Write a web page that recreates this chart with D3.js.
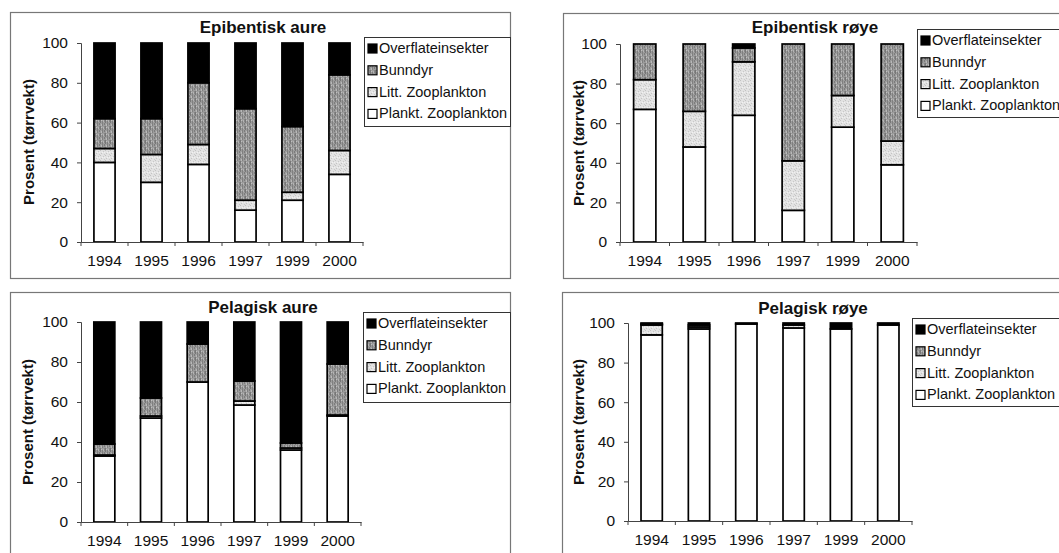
<!DOCTYPE html>
<html><head><meta charset="utf-8">
<script src="https://cdn.jsdelivr.net/npm/d3@7"></script>
<style>
html,body{margin:0;padding:0;background:#fff;overflow:hidden;}
svg{display:block;font-family:"Liberation Sans",Arial,sans-serif;}
</style></head>
<body>
<svg id="c" width="1059" height="553"></svg>
<script>
const years = ["1994","1995","1996","1997","1999","2000"];
const seriesNames = ["Plankt. Zooplankton","Litt. Zooplankton","Bunndyr","Overflateinsekter"];
const legendOrder = ["Overflateinsekter","Bunndyr","Litt. Zooplankton","Plankt. Zooplankton"];
const yTicks = [0,20,40,60,80,100];
const titles = ["Epibentisk aure","Epibentisk røye","Pelagisk aure","Pelagisk røye"];
const yLabel = "Prosent (tørrvekt)";

// Epibentisk aure
const epiAurePlankt = [40,30,39,16,21,34];
const epiAureLitt   = [7,14,10,5,4,12];
const epiAureBunn   = [15,18,31,46,33,38];
const epiAureOver   = [38,38,20,33,42,16];
// Epibentisk røye
const epiRoyePlankt = [67,48,64,16,58,39];
const epiRoyeLitt   = [15,18,27,25,16,12];
const epiRoyeBunn   = [18,34,7,59,26,49];
const epiRoyeOver   = [0,0,2,0,0,0];
// Pelagisk aure
const pelAurePlankt = [33,52,70,58.5,36,53];
const pelAureLitt   = [0.5,1,0,2,1,0.5];
const pelAureBunn   = [5.5,9,19,10,2.5,25.5];
const pelAureOver   = [61,38,11,29.5,60.5,21];
// Pelagisk røye
const pelRoyePlankt = [94,97,99.5,97.5,97,99];
const pelRoyeLitt   = [5,1,0,1.5,0,0];
const pelRoyeBunn   = [0.5,1,0,0,0,0];
const pelRoyeOver   = [0.5,1,0.5,1,3,1];

const panelSeries = [
  [epiAurePlankt,epiAureLitt,epiAureBunn,epiAureOver],
  [epiRoyePlankt,epiRoyeLitt,epiRoyeBunn,epiRoyeOver],
  [pelAurePlankt,pelAureLitt,pelAureBunn,pelAureOver],
  [pelRoyePlankt,pelRoyeLitt,pelRoyeBunn,pelRoyeOver]
];

const layouts = [
  {frame:[10,12,500,266], plot:[81,363,43,242], legend:[364,37,146,89], title:[263,33], ylab:[34,142]},
  {frame:[563,13,520,265], plot:[620,917,44,242], legend:[917,29,160,88], title:[815,33], ylab:[584,143]},
  {frame:[10,292,500,280], plot:[81,361,322,522], legend:[363,312,147,90], title:[263,313], ylab:[33,422]},
  {frame:[562,292,520,280], plot:[628,912,323,521], legend:[912,318,160,88], title:[813,314], ylab:[584,422]}
];

const svg = d3.select("#c");
const defs = svg.append("defs");
// Bunndyr: dark gray with vertical streaks (scanned stipple)
const pb = defs.append("pattern").attr("id","bunn").attr("patternUnits","userSpaceOnUse").attr("width",5).attr("height",7);
pb.append("rect").attr("width",5).attr("height",7).attr("fill","#9c9c9c");
[[0,0,1,4,"#777"],[2,2,1,5,"#808080"],[4,0,1,3,"#868686"],[1,5,1,2,"#b8b8b8"],[3,1,1,2,"#b4b4b4"],[4,4,1,2,"#7c7c7c"],[1,1,1,1,"#c0c0c0"]]
  .forEach(p=>pb.append("rect").attr("x",p[0]).attr("y",p[1]).attr("width",p[2]).attr("height",p[3]).attr("fill",p[4]));
// Litt: light stipple
const pl = defs.append("pattern").attr("id","litt").attr("patternUnits","userSpaceOnUse").attr("width",5).attr("height",5);
pl.append("rect").attr("width",5).attr("height",5).attr("fill","#e2e2e2");
[[0,0,"#c2c2c2"],[3,1,"#c8c8c8"],[1,3,"#c4c4c4"],[4,4,"#cacaca"],[2,2,"#f2f2f2"],[4,2,"#f0f0f0"]]
  .forEach(p=>pl.append("rect").attr("x",p[0]).attr("y",p[1]).attr("width",1).attr("height",1).attr("fill",p[2]));

const fills = {
  "Plankt. Zooplankton":"#ffffff",
  "Litt. Zooplankton":"url(#litt)",
  "Bunndyr":"url(#bunn)",
  "Overflateinsekter":"#000000"
};

layouts.forEach((L,pi)=>{
  const g = svg.append("g");
  const [fx,fy,fw,fh] = L.frame;
  g.append("rect").attr("x",fx+0.5).attr("y",fy+0.5).attr("width",fw).attr("height",fh)
    .attr("fill","none").attr("stroke","#777").attr("stroke-width",1.2);

  const [x0,x1,yT,yB] = L.plot;
  const x = d3.scaleBand().domain(years).range([x0,x1]).paddingInner(0.55).paddingOuter(0.275);
  const y = d3.scaleLinear().domain([0,100]).range([yB,yT]);

  const rows = years.map((yr,i)=>{
    const o = {year:yr};
    seriesNames.forEach((s,k)=>{ o[s] = panelSeries[pi][k][i]; });
    return o;
  });
  const stack = d3.stack().keys(seriesNames)(rows);

  stack.forEach(layer=>{
    g.append("g").selectAll("rect").data(layer.filter(d=>d[1]-d[0]>0)).join("rect")
      .attr("x",d=>x(d.data.year))
      .attr("y",d=>y(d[1]))
      .attr("width",x.bandwidth())
      .attr("height",d=>y(d[0])-y(d[1]))
      .attr("fill",fills[layer.key])
      .attr("stroke","#000").attr("stroke-width",1.7);
  });

  const ya = g.append("g").attr("transform",`translate(${x0},0)`)
    .call(d3.axisLeft(y).tickValues(yTicks).tickSize(4).tickPadding(9));
  ya.select(".domain").attr("stroke","#444").attr("stroke-width",1);
  ya.selectAll(".tick line").attr("stroke","#444");
  ya.selectAll("text").attr("font-size",15.5).attr("fill","#111");

  const xa = g.append("g").attr("transform",`translate(0,${yB})`)
    .call(d3.axisBottom(x).tickSize(0).tickPadding(13));
  xa.select(".domain").attr("stroke","#444").attr("stroke-width",1);
  xa.selectAll("text").attr("font-size",15.5).attr("fill","#111");
  const bounds = years.map(yr=>x(yr)-x.step()*x.paddingInner()/2).concat([x1]);
  bounds[0] = x0;
  g.append("g").selectAll("line").data(bounds).join("line")
    .attr("x1",d=>d).attr("x2",d=>d).attr("y1",yB).attr("y2",yB+4)
    .attr("stroke","#444").attr("stroke-width",1);

  g.append("text").attr("x",L.title[0]).attr("y",L.title[1]).attr("text-anchor","middle")
    .attr("font-size",17).attr("font-weight","bold").attr("fill","#111").text(titles[pi]);

  g.append("text").attr("transform",`translate(${L.ylab[0]},${L.ylab[1]}) rotate(-90)`)
    .attr("text-anchor","middle").attr("font-size",15).attr("font-weight","bold").attr("fill","#111")
    .text(yLabel);

  const [lx,ly,lw,lh] = L.legend;
  g.append("rect").attr("x",lx+0.5).attr("y",ly+0.5).attr("width",lw).attr("height",lh)
    .attr("fill","#fff").attr("stroke","#333").attr("stroke-width",1);
  legendOrder.forEach((name,k)=>{
    const cy = ly + 11 + k*21.8;
    g.append("rect").attr("x",lx+4).attr("y",cy-4).attr("width",9).attr("height",9)
      .attr("fill",fills[name]).attr("stroke","#000").attr("stroke-width",1.2);
    g.append("text").attr("x",lx+15).attr("y",cy+5).attr("font-size",14.5).attr("fill","#111").text(name);
  });
});
</script>
</body></html>
